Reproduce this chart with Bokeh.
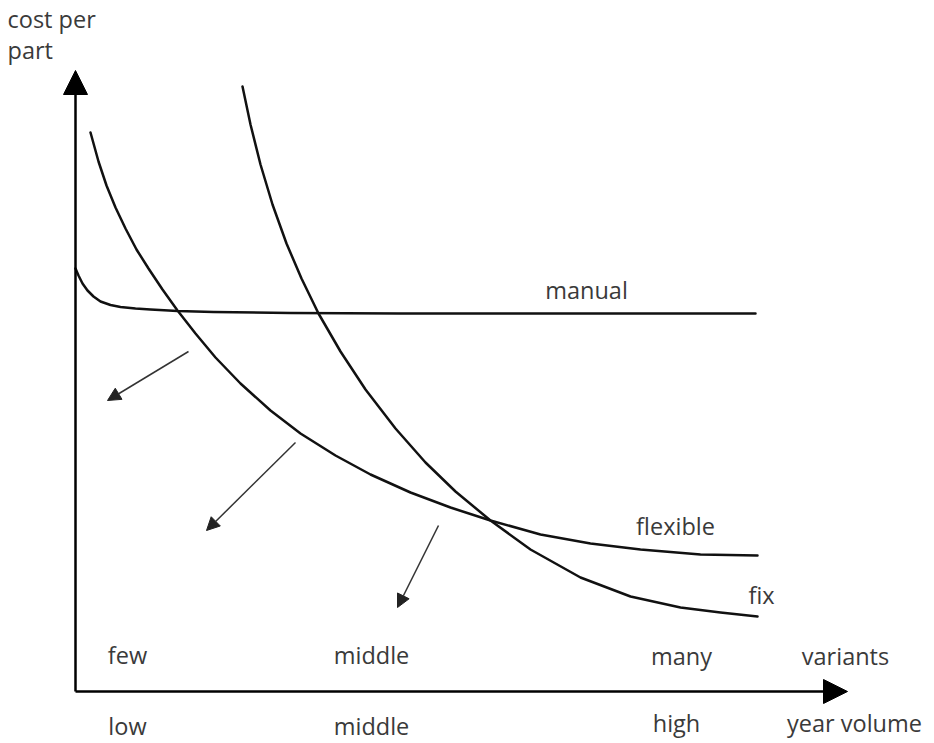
from bokeh.plotting import figure
from bokeh.models import Range1d, Arrow, NormalHead, ColumnDataSource
from bokeh.embed import file_html
from bokeh.resources import INLINE
from bokeh.core.properties import value

# Conceptual cost-per-part curves (arbitrary units; origin at the axes' corner)
manual_x = [0, 3, 7, 12, 18, 25, 35, 45, 60, 75, 102, 138, 215, 325, 475, 680]
manual_y = [423, 416, 408, 401, 395, 390, 386.5, 384.5, 383, 382, 380.5, 379.5, 378.5, 378, 378, 378]

flexible_x = [15, 23, 31, 40, 50, 61, 73, 87, 102, 120, 140, 165, 195, 225, 260, 295,
              335, 375, 415, 465, 515, 565, 625, 682]
flexible_y = [559, 530, 506, 484, 463, 442, 423, 402, 381, 358, 334, 308, 281, 258, 236, 217,
              199, 184, 171, 157, 148, 142, 137, 136]

fix_x = [167, 175, 185, 197, 211, 226, 243, 265, 290, 320, 350, 380, 415, 455, 505, 555,
         605, 645, 682]
fix_y = [605, 567, 527, 487, 448, 413, 378, 340, 302, 263, 229, 200, 171, 142, 114, 95,
         84, 79, 75]

# Small "cost reduction" arrows
arrow_x0 = [113, 220, 363]
arrow_y0 = [340, 249, 166]
arrow_x1 = [32, 131, 322]
arrow_y1 = [291, 161, 84]

# Axis extents
x_axis_end = 772
y_axis_end = 621

# Labels
curve_labels = ["manual", "flexible", "fix"]
curve_label_x = [511, 600, 686]
curve_label_y = [402, 166, 97]

variant_labels = ["few", "middle", "many", "variants"]
variant_label_x = [52, 296, 606, 770]
variant_label_y = [37, 37, 36, 36]

volume_labels = ["low", "middle", "high", "year volume"]
volume_label_x = [52, 296, 601, 779]
volume_label_y = [-34, -34, -31, -31]

ylabel_lines = ["cost per", "part"]
ylabel_x = [-68, -68]
ylabel_y = [673, 642]

W, H = 926, 743
X0, Y1 = -75, 691
p = figure(width=W, height=H, output_backend="svg", toolbar_location=None,
           x_range=Range1d(X0, X0 + W), y_range=Range1d(Y1 - H, Y1),
           x_axis_location=None, y_axis_location=None, min_border=0,
           background_fill_color="white", border_fill_color="white")
p.grid.visible = False
p.outline_line_color = None

curve_color = "#111111"
for xs, ys in [(manual_x, manual_y), (flexible_x, flexible_y), (fix_x, fix_y)]:
    p.line(xs, ys, line_color=curve_color, line_width=2.5, line_join="round", line_cap="round")

# axes with big arrowheads
p.add_layout(Arrow(end=NormalHead(size=24, fill_color="black", line_color="black"),
                   x_start=0, y_start=0, x_end=0, y_end=y_axis_end,
                   line_color="black", line_width=2.5))
p.add_layout(Arrow(end=NormalHead(size=24, fill_color="black", line_color="black"),
                   x_start=0, y_start=0, x_end=x_axis_end, y_end=0,
                   line_color="black", line_width=2.5))

# small arrows
src = ColumnDataSource(dict(x0=arrow_x0, y0=arrow_y0, x1=arrow_x1, y1=arrow_y1))
p.add_layout(Arrow(end=NormalHead(size=13, fill_color="#222222", line_color="#222222"),
                   x_start="x0", y_start="y0", x_end="x1", y_end="y1", source=src,
                   line_color="#333333", line_width=1.5))

font = value("Open Sans")
txt_color = "#3a3a3a"
fs = "23.5px"
for xs, ys, labels, align in [(curve_label_x, curve_label_y, curve_labels, "center"),
                              (variant_label_x, variant_label_y, variant_labels, "center"),
                              (volume_label_x, volume_label_y, volume_labels, "center"),
                              (ylabel_x, ylabel_y, ylabel_lines, "left")]:
    p.text(xs, ys, text=labels, text_font=font, text_font_size=fs,
           text_color=txt_color, text_align=align, text_baseline="alphabetic")

open("out.html", "w").write(file_html(p, INLINE))
